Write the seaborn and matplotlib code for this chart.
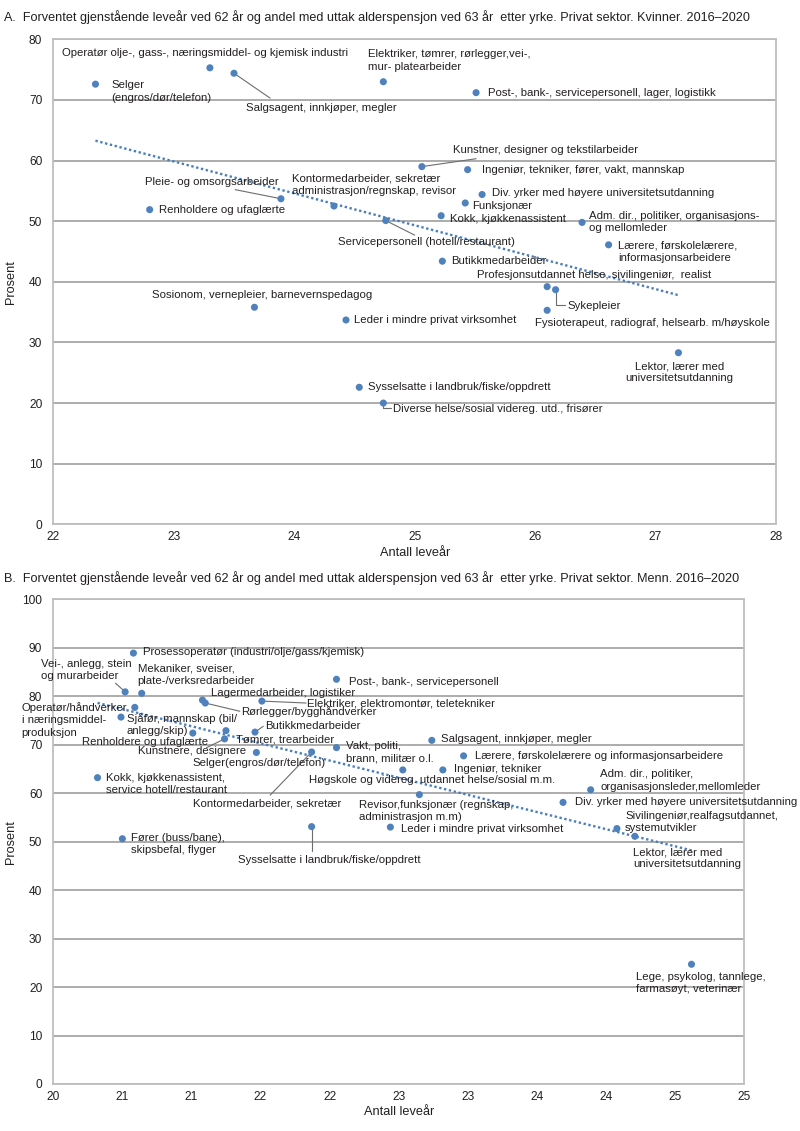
import numpy as np
import matplotlib
matplotlib.use("Agg")
import matplotlib.pyplot as plt
import seaborn as sns

# ---------------- Data: Panel A (Kvinner) ----------------
a_occupations = [
    "Selger (engros/dør/telefon)",
    "Operatør olje-, gass-, næringsmiddel- og kjemisk industri",
    "Salgsagent, innkjøper, megler",
    "Elektriker, tømrer, rørlegger,vei-, mur- platearbeider",
    "Post-, bank-, servicepersonell, lager, logistikk",
    "Kunstner, designer og tekstilarbeider",
    "Ingeniør, tekniker, fører, vakt, mannskap",
    "Pleie- og omsorgsarbeider",
    "Kontormedarbeider, sekretær administrasjon/regnskap, revisor",
    "Div. yrker med høyere universitetsutdanning",
    "Funksjonær",
    "Renholdere og ufaglærte",
    "Kokk, kjøkkenassistent",
    "Servicepersonell (hotell/restaurant)",
    "Adm. dir., politiker, organisasjons- og mellomleder",
    "Lærere, førskolelærere, informasjonsarbeidere",
    "Butikkmedarbeider",
    "Profesjonsutdannet helse, sivilingeniør,  realist",
    "Sykepleier",
    "Fysioterapeut, radiograf, helsearb. m/høyskole",
    "Sosionom, vernepleier, barnevernspedagog",
    "Leder i mindre privat virksomhet",
    "Lektor, lærer med universitetsutdanning",
    "Sysselsatte i landbruk/fiske/oppdrett",
    "Diverse helse/sosial videreg. utd., frisører",
]
a_years = [22.35, 23.30, 23.50, 24.74, 25.51, 25.06, 25.44, 23.89, 24.33, 25.56,
           25.42, 22.80, 25.22, 24.76, 26.39, 26.61, 25.23, 26.10, 26.17, 26.10,
           23.67, 24.43, 27.19, 24.54, 24.74]
a_percent = [72.6, 75.3, 74.4, 73.0, 71.2, 59.0, 58.5, 53.7, 52.5, 54.4,
             53.0, 51.9, 50.9, 50.1, 49.8, 46.1, 43.4, 39.2, 38.7, 35.3,
             35.8, 33.7, 28.3, 22.6, 20.0]
a_xticks = [22, 23, 24, 25, 26, 27, 28]
a_yticks = [0, 10, 20, 30, 40, 50, 60, 70, 80]
a_title = ("A.  Forventet gjenstående leveår ved 62 år og andel med uttak alderspensjon "
           "ved 63 år  etter yrke. Privat sektor. Kvinner. 2016\u20132020")

# ---------------- Data: Panel B (Menn) ----------------
b_occupations = [
    "Prosessoperatør (industri/olje/gass/kjemisk)",
    "Vei-, anlegg, stein og murarbeider",
    "Mekaniker, sveiser, plate-/verksredarbeider",
    "Operatør/håndverker i næringsmiddel-produksjon",
    "Sjåfør, mannskap (bil/anlegg/skip)",
    "Renholdere og ufaglærte",
    "Lagermedarbeider, logistiker",
    "Rørlegger/bygghåndverker",
    "Elektriker, elektromontør, teletekniker",
    "Butikkmedarbeider",
    "Tømrer, trearbeider",
    "Kunstnere, designere",
    "Selger(engros/dør/telefon)",
    "Kontormedarbeider, sekretær",
    "Vakt, politi, brann, militær o.l.",
    "Post-, bank-, servicepersonell",
    "Kokk, kjøkkenassistent, service hotell/restaurant",
    "Salgsagent, innkjøper, megler",
    "Lærere, førskolelærere og informasjonsarbeidere",
    "Ingeniør, tekniker",
    "Høgskole og videreg. utdannet helse/sosial m.m.",
    "Revisor,funksjonær (regnskap, administrasjon m.m)",
    "Leder i mindre privat virksomhet",
    "Sysselsatte i landbruk/fiske/oppdrett",
    "Adm. dir., politiker, organisasjonsleder,mellomleder",
    "Div. yrker med høyere universitetsutdanning",
    "Sivilingeniør,realfagsutdannet, systemutvikler",
    "Lektor, lærer med universitetsutdanning",
    "Fører (buss/bane), skipsbefal, flyger",
    "Lege, psykolog, tannlege, farmasøyt, veterinær",
]
b_years = [20.58, 20.52, 20.64, 20.59, 20.49, 21.01, 21.08, 21.10, 21.51, 21.46,
           21.25, 21.24, 21.47, 21.87, 22.05, 22.05, 20.32, 22.74, 22.97, 22.82,
           22.53, 22.65, 22.44, 21.87, 23.89, 23.69, 24.08, 24.21, 20.50, 24.62]
b_percent = [88.9, 80.9, 80.6, 77.7, 75.7, 72.4, 79.2, 78.6, 79.0, 72.6,
             72.9, 71.2, 68.4, 68.5, 69.4, 83.5, 63.2, 70.9, 67.7, 64.8,
             64.8, 59.7, 53.0, 53.1, 60.7, 58.1, 52.7, 51.1, 50.6, 24.7]
b_xticks = [20, 20.5, 21, 21.5, 22, 22.5, 23, 23.5, 24, 24.5, 25]
b_xticklabels = ["20", "21", "21", "22", "22", "23", "23", "24", "24", "25", "25"]
b_yticks = [0, 10, 20, 30, 40, 50, 60, 70, 80, 90, 100]
b_title = ("B.  Forventet gjenstående leveår ved 62 år og andel med uttak alderspensjon "
           "ved 63 år  etter yrke. Privat sektor. Menn. 2016\u20132020")

# ---------------- Label layout (annotation placement, not data) ----------------
# (label text, x, y, horizontal alignment)
a_label_layout = [
    ("Selger\n(engros/dør/telefon)", 22.48, 71.4, "left"),
    ("Operatør olje-, gass-, næringsmiddel- og kjemisk industri", 22.07, 77.7, "left"),
    ("Salgsagent, innkjøper, megler", 23.60, 68.7, "left"),
    ("Elektriker, tømrer, rørlegger,vei-,\nmur- platearbeider", 24.61, 76.5, "left"),
    ("Post-, bank-, servicepersonell, lager, logistikk", 25.61, 71.2, "left"),
    ("Kunstner, designer og tekstilarbeider", 25.32, 61.8, "left"),
    ("Ingeniør, tekniker, fører, vakt, mannskap", 25.56, 58.5, "left"),
    ("Pleie- og omsorgsarbeider", 22.76, 56.5, "left"),
    ("Kontormedarbeider, sekretær\nadministrasjon/regnskap, revisor", 23.98, 56.05, "left"),
    ("Div. yrker med høyere universitetsutdanning", 25.64, 54.6, "left"),
    ("Funksjonær", 25.48, 52.5, "left"),
    ("Renholdere og ufaglærte", 22.88, 51.9, "left"),
    ("Kokk, kjøkkenassistent", 25.29, 50.3, "left"),
    ("Servicepersonell (hotell/restaurant)", 24.36, 46.5, "left"),
    ("Adm. dir., politiker, organisasjons-\nog mellomleder", 26.45, 49.8, "left"),
    ("Lærere, førskolelærere,\ninformasjonsarbeidere", 26.69, 45.0, "left"),
    ("Butikkmedarbeider", 25.30, 43.5, "left"),
    ("Profesjonsutdannet helse, sivilingeniør,  realist", 25.52, 41.05, "left"),
    ("Sykepleier", 26.27, 36.0, "left"),
    ("Fysioterapeut, radiograf, helsearb. m/høyskole", 26.00, 33.2, "left"),
    ("Sosionom, vernepleier, barnevernspedagog", 22.82, 37.9, "left"),
    ("Leder i mindre privat virksomhet", 24.50, 33.7, "left"),
    ("Lektor, lærer med\nuniversitetsutdanning", 27.20, 25.1, "center"),
    ("Sysselsatte i landbruk/fiske/oppdrett", 24.61, 22.6, "left"),
    ("Diverse helse/sosial videreg. utd., frisører", 24.82, 19.0, "left"),
]
# leader lines: point index -> list of bend/end points
a_leaders = {
    2: [(23.80, 70.3)],
    5: [(25.51, 60.3)],
    7: [(23.51, 55.2)],
    13: [(25.00, 47.7)],
    18: [(26.17, 36.1), (26.25, 36.1)],
    24: [(24.74, 19.2), (24.80, 19.2)],
}

b_label_layout = [
    ("Prosessoperatør (industri/olje/gass/kjemisk)", 20.65, 89.1, "left"),
    ("Vei-, anlegg, stein\nog murarbeider", 19.91, 85.4, "left"),
    ("Mekaniker, sveiser,\nplate-/verksredarbeider", 20.61, 84.4, "left"),
    ("Operatør/håndverker\ni næringsmiddel-\nproduksjon", 19.77, 75.1, "left"),
    ("Sjåfør, mannskap (bil/\nanlegg/skip)", 20.53, 74.1, "left"),
    ("Renholdere og ufaglærte", 20.21, 70.6, "left"),
    ("Lagermedarbeider, logistiker", 21.14, 80.7, "left"),
    ("Rørlegger/bygghåndverker", 21.36, 76.8, "left"),
    ("Elektriker, elektromontør, teletekniker", 21.84, 78.5, "left"),
    ("Butikkmedarbeider", 21.53, 73.8, "left"),
    ("Tømrer, trearbeider", 21.32, 71.1, "left"),
    ("Kunstnere, designere", 20.61, 68.6, "left"),
    ("Selger(engros/dør/telefon)", 21.01, 66.2, "left"),
    ("Kontormedarbeider, sekretær", 21.01, 57.9, "left"),
    ("Vakt, politi,\nbrann, militær o.l.", 22.12, 68.4, "left"),
    ("Post-, bank-, servicepersonell", 22.14, 82.9, "left"),
    ("Kokk, kjøkkenassistent,\nservice hotell/restaurant", 20.38, 61.9, "left"),
    ("Salgsagent, innkjøper, megler", 22.81, 71.1, "left"),
    ("Lærere, førskolelærere og informasjonsarbeidere", 23.05, 67.7, "left"),
    ("Ingeniør, tekniker", 22.90, 65.0, "left"),
    ("Høgskole og videreg. utdannet helse/sosial m.m.", 21.85, 62.7, "left"),
    ("Revisor,funksjonær (regnskap,\nadministrasjon m.m)", 22.21, 56.4, "left"),
    ("Leder i mindre privat virksomhet", 22.52, 52.7, "left"),
    ("Sysselsatte i landbruk/fiske/oppdrett", 21.34, 46.3, "left"),
    ("Adm. dir., politiker,\norganisasjonsleder,mellomleder", 23.96, 62.6, "left"),
    ("Div. yrker med høyere universitetsutdanning", 23.78, 58.2, "left"),
    ("Sivilingeniør,realfagsutdannet,\nsystemutvikler", 24.14, 54.1, "left"),
    ("Lektor, lærer med\nuniversitetsutdanning", 24.20, 46.6, "left"),
    ("Fører (buss/bane),\nskipsbefal, flyger", 20.56, 49.6, "left"),
    ("Lege, psykolog, tannlege,\nfarmasøyt, veterinær", 24.22, 20.8, "left"),
]
b_leaders = {
    1: [(20.45, 82.7)],
    8: [(21.83, 78.6)],
    7: [(21.35, 76.9)],
    9: [(21.52, 73.8)],
    11: [(21.11, 69.4)],
    13: [(21.57, 59.6)],
    23: [(21.87, 48.0)],
}

# ---------------- Style ----------------
sns.set_style("white")
FONT = ["Liberation Sans", "DejaVu Sans"]
plt.rcParams["font.family"] = FONT
TEXT_C = "#231f20"
DOT_C = "#4f81bd"
LINE_C = "#4a7ebb"
GRID_C = "#a6a6a6"
FRAME_C = "#bfbfbf"
LEAD_C = "#6d6d6d"
LABEL_FS = 8.2

W, H = 800, 1131
fig = plt.figure(figsize=(W / 100, H / 100), dpi=100)


def frac(px_l, px_t, px_r, px_b):
    return [px_l / W, 1 - px_b / H, (px_r - px_l) / W, (px_b - px_t) / H]


def draw_panel(ax, years, pct, layout, leaders, xticks, xticklabels, yticks, xlim, ylim):
    ax.set_axisbelow(True)
    ax.yaxis.grid(True, color=GRID_C, lw=1.3)
    ax.xaxis.grid(False)
    sns.regplot(x=np.array(years), y=np.array(pct), ax=ax, scatter=False, ci=None,
                truncate=True,
                line_kws=dict(color=LINE_C, lw=1.7, ls=(0, (1, 1.1)), zorder=2))
    sns.scatterplot(x=np.array(years), y=np.array(pct), ax=ax, color=DOT_C, s=26,
                    edgecolor="none", linewidth=0, zorder=3, legend=False)
    for idx, pts in leaders.items():
        xs = [years[idx]] + [p[0] for p in pts]
        ys = [pct[idx]] + [p[1] for p in pts]
        ax.plot(xs, ys, color=LEAD_C, lw=0.8, zorder=2.5)
    for text, x, y, ha in layout:
        ax.text(x, y, text, ha=ha, va="center", fontsize=LABEL_FS, color=TEXT_C,
                linespacing=1.27, clip_on=False, zorder=4)
    ax.set_xlim(*xlim)
    ax.set_ylim(*ylim)
    ax.set_xticks(xticks)
    ax.set_xticklabels(xticklabels)
    ax.set_yticks(yticks)
    ax.set_xlabel("")
    ax.set_ylabel("")
    ax.tick_params(axis="both", length=0, labelsize=8.6, colors=TEXT_C)
    ax.tick_params(axis="y", pad=8)
    ax.tick_params(axis="x", pad=5)
    for sp in ax.spines.values():
        sp.set_visible(True)
        sp.set_color(FRAME_C)
        sp.set_linewidth(1.3)


axA = fig.add_axes(frac(53.3, 39.3, 776, 524.3))
draw_panel(axA, a_years, a_percent, a_label_layout, a_leaders,
           a_xticks, [str(t) for t in a_xticks], a_yticks, (22, 28), (0, 80))

axB = fig.add_axes(frac(53.3, 599.3, 744, 1084))
draw_panel(axB, b_years, b_percent, b_label_layout, b_leaders,
           b_xticks, b_xticklabels, b_yticks, (20, 25), (0, 100))

# titles and axis labels
fig.text(4 / W, 1 - 17 / H, a_title, ha="left", va="center", fontsize=9.1, color=TEXT_C)
fig.text(4 / W, 1 - 578 / H, b_title, ha="left", va="center", fontsize=9.1, color=TEXT_C)
fig.text(11 / W, 1 - 282 / H, "Prosent", rotation=90, ha="center", va="center",
         fontsize=9.2, color=TEXT_C)
fig.text(11 / W, 1 - 842 / H, "Prosent", rotation=90, ha="center", va="center",
         fontsize=9.2, color=TEXT_C)
fig.text(415 / W, 1 - 553 / H, "Antall leveår", ha="center", va="center",
         fontsize=9.2, color=TEXT_C)
fig.text(399 / W, 1 - 1112 / H, "Antall leveår", ha="center", va="center",
         fontsize=9.2, color=TEXT_C)

fig.savefig("out.png", dpi=100)
